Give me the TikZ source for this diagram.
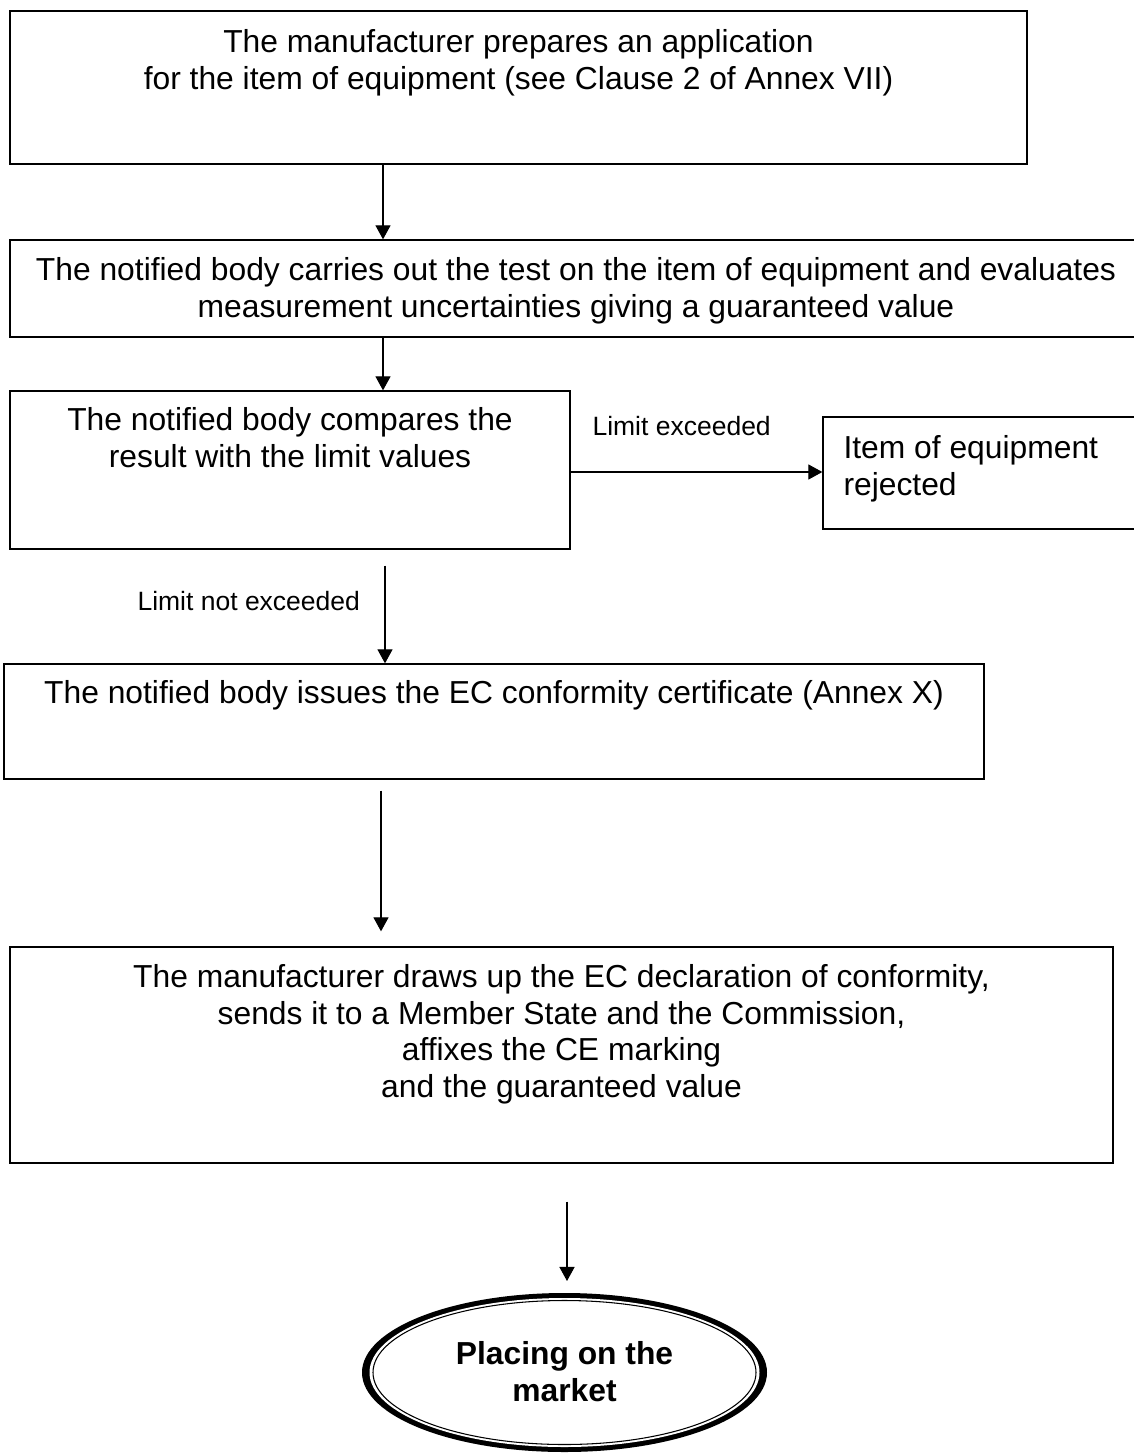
\documentclass[tikz,border=0pt]{standalone}
\usepackage{fontspec}
\setmainfont{Liberation Sans}
\usetikzlibrary{arrows.meta,shapes.geometric,calc}
\newcommand\pxu{0.37736pt}
\begin{document}
\begin{tikzpicture}[x=0.37736pt,y=-0.37736pt,
  box/.style={draw, line width=0.5pt, rectangle, inner sep=0pt},
  txt/.style={font=\fontsize{12}{13.85}\selectfont, align=center, inner sep=0pt, anchor=north},
  lbl/.style={font=\fontsize{10}{12}\selectfont, inner sep=0pt, anchor=base west},
  arr/.style={line width=0.4pt, -{Triangle[length=5.3pt,width=5.7pt]}}]
\useasboundingbox (0,0) rectangle (1134,1456);
\clip (0,0) rectangle (1134,1456);
% boxes
\node[box, minimum width=1017*\pxu, minimum height=153*\pxu] (b1) at (518.5,87.5) {};
\node[box, minimum width=1132*\pxu, minimum height=97*\pxu] (b2) at (576,288.5) {};
\node[box, minimum width=560*\pxu, minimum height=158*\pxu] (b3) at (290,470) {};
\node[box, minimum width=337*\pxu, minimum height=112*\pxu] (b4) at (991.5,473) {};
\node[box, minimum width=980*\pxu, minimum height=115*\pxu] (b5) at (494,721.5) {};
\node[box, minimum width=1103*\pxu, minimum height=216*\pxu] (b6) at (561.5,1055) {};
% terminal ellipse: thick outer ring, white gap, thin inner line
\node[ellipse, fill=black, inner sep=0pt, outer sep=0pt, minimum width=405*\pxu, minimum height=159*\pxu] (e) at (564.5,1372.5) {};
\fill[white] (e.center) ellipse [x radius=195, y radius=74.5];
\draw[line width=0.4pt] (e.center) ellipse [x radius=191.5, y radius=72];
% texts
\node[txt] (t1) at (518.5,29) {The manufacturer prepares an application\\ for the item of equipment (see Clause 2 of Annex VII)};
\node[txt] (t2) at (576,257) {The notified body carries out the test on the item of equipment and evaluates\\ measurement uncertainties giving a guaranteed value};
\node[txt] (t3) at (290,407) {The notified body compares the\\ result with the limit values};
\node[txt, anchor=north west, align=left] (t4) at (843,435) {Item of equipment\\ rejected};
\node[txt] (t5) at (494,680) {The notified body issues the EC conformity certificate (Annex X)};
\node[txt] (t6) at (561.5,964) {The manufacturer draws up the EC declaration of conformity,\\ sends it to a Member State and the Commission,\\ affixes the CE marking\\ and the guaranteed value};
\node[txt, font=\fontsize{12}{13.85}\selectfont\bfseries] (t7) at (564.5,1341) {Placing on the\\ market};
\node[lbl] (l1) at (592,435) {Limit exceeded};
\node[lbl] (l2) at (137,610) {Limit not exceeded};
% connectors
\coordinate (x383) at (383,0);
\coordinate (x385) at (385,0);
\coordinate (x381) at (381,0);
\coordinate (x567) at (567,0);
\coordinate (y472) at (0,472);
\draw[arr] (b1.south -| x383) -- (b2.north -| x383);
\draw[arr] (b2.south -| x383) -- (b3.north -| x383);
\draw[arr] (b3.east |- y472) -- (b4.west |- y472);
\draw[arr] ($(b3.south -| x385)+(0,16)$) -- (b5.north -| x385);
\draw[arr] ($(b5.south -| x381)+(0,11)$) -- ($(b6.north -| x381)+(0,-15)$);
\draw[arr] ($(b6.south -| x567)+(0,38)$) -- ($(e.north -| x567)+(0,-12)$);
\end{tikzpicture}
\end{document}
